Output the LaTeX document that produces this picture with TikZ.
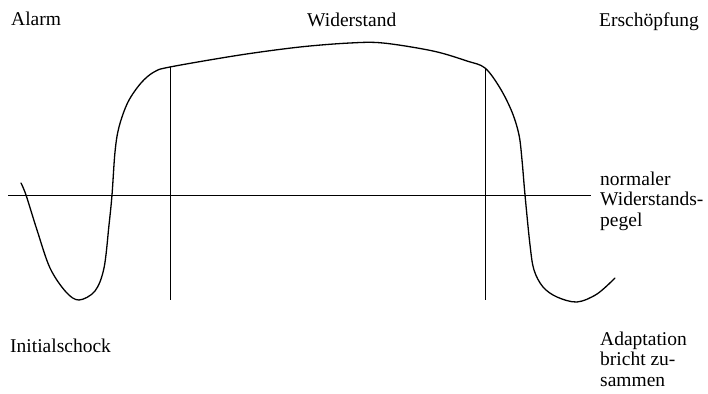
\documentclass[tikz,border=0pt]{standalone}
\usepackage{fontspec}
\setmainfont{Liberation Serif}
\begin{document}
\begin{tikzpicture}[x=1pt,y=-1pt,
  lbl/.style={anchor=base west,inner sep=0pt,font=\fontsize{19.5}{20.3}\selectfont},
  curveline/.style={line width=1.3pt,line join=round,line cap=round},
  refline/.style={line width=0.9pt}]
\useasboundingbox (0,0) rectangle (708,393);
% labels
\node[lbl] (alarm) at (11,26) {Alarm};
\node[lbl] (wid) at (307,27) {Widerstand};
\node[lbl] (ersch) at (599,27) {Erschöpfung};
\node[lbl] (init) at (10,352) {Initialschock};
\node[lbl,align=left] (norm) at (600,226) {normaler\\Widerstands-\\pegel};
\node[lbl,align=left] (adapt) at (600,386) {Adaptation\\bricht zu-\\sammen};
% level line and phase borders
\coordinate (hl) at (8,195);
\coordinate (hr) at (591,195);
\draw[refline] (hl) -- (hr);
\coordinate (v1t) at (170,67);
\coordinate (v1b) at (170,300);
\coordinate (v2t) at (485,68);
\coordinate (v2b) at (485,300);
\draw[refline] (v1t) -- (v1b);
\draw[refline] (v2t) -- (v2b);
% curve
\draw[curveline] plot[smooth,tension=0.55] coordinates {
 (21,183) (26,195) (37,230) (50,268) (66,292) (79,300) (95,291) (104,268)
 (109,225) (112,195) (115,152) (119,127) (128,102) (141,83) (154,72) (170,67)
 (240,55) (300,47) (350,43) (383,43) (433,51) (467,61) (485,68) (500,88)
 (512,112) (519,135) (522,160) (525,195) (530,245) (534,270) (543,287)
 (557,297) (577,302) (597,294) (615,278)};
\end{tikzpicture}
\end{document}
